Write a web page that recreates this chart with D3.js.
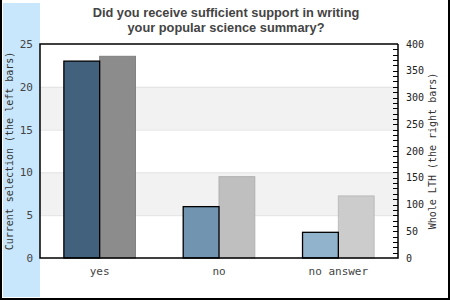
<!DOCTYPE html>
<html>
<head>
<meta charset="utf-8">
<script src="https://cdn.jsdelivr.net/npm/d3@7"></script>
<style>
    body { margin: 0; background: #fff; }
</style>
</head>
<body>
<div id="chart"></div>
<script>
const categories = ["yes", "no", "no answer"];
const selectionValues = [23, 6, 3];
const lthValues = [377, 152, 116];
const selectionColors = ["#41617d", "#7194b0", "#92b3cc"];
const lthColors = ["#8c8c8c", "#bfbfbf", "#cccccc"];
const leftTicks = [0, 5, 10, 15, 20, 25];
const rightTicks = [0, 50, 100, 150, 200, 250, 300, 350, 400];
const titleLines = ["Did you receive sufficient support in writing", "your popular science summary?"];

const width = 450, height = 300;
const margin = { top: 44, right: 52, bottom: 42, left: 40 };
const mono = "'DejaVu Sans Mono', monospace";

const svg = d3.select("#chart").append("svg")
    .attr("width", width)
    .attr("height", height);

// left blue strip
svg.append("rect")
    .attr("x", 3).attr("y", 3)
    .attr("width", 37).attr("height", 294)
    .style("fill", "#c9e7fc");

const x = d3.scaleBand()
    .domain(categories)
    .range([margin.left, width - margin.right])
    .paddingInner(0.4)
    .paddingOuter(0.2);

const xSub = d3.scaleBand()
    .domain(["sel", "lth"])
    .range([0, x.bandwidth()]);

const yL = d3.scaleLinear().domain([0, 25]).range([height - margin.bottom, margin.top]);
const yR = d3.scaleLinear().domain([0, 400]).range([height - margin.bottom, margin.top]);

const x0 = margin.left, x1 = width - margin.right;

// grid bands
[5, 15].forEach(v => {
    svg.append("rect")
        .attr("x", x0).attr("y", yL(v + 5))
        .attr("width", x1 - x0).attr("height", yL(v) - yL(v + 5))
        .style("fill", "#f2f2f2");
});
[5, 10, 15, 20].forEach(v => {
    svg.append("line")
        .attr("x1", x0).attr("x2", x1)
        .attr("y1", yL(v) + 0.5).attr("y2", yL(v) + 0.5)
        .style("stroke", "#e2e2e2");
});

// bars
const groups = svg.selectAll(".cat")
    .data(categories)
    .enter().append("g")
    .attr("class", "cat")
    .attr("transform", d => `translate(${x(d)},0)`);

groups.append("rect")
    .attr("x", xSub("lth"))
    .attr("y", (d, i) => yR(lthValues[i]))
    .attr("width", xSub.bandwidth())
    .attr("height", (d, i) => yR(0) - yR(lthValues[i]))
    .style("fill", (d, i) => lthColors[i])
    .style("stroke", (d, i) => d3.color(lthColors[i]).darker(0.25))
    .style("stroke-width", 1);

groups.append("rect")
    .attr("x", xSub("sel"))
    .attr("y", (d, i) => yL(selectionValues[i]))
    .attr("width", xSub.bandwidth())
    .attr("height", (d, i) => yL(0) - yL(selectionValues[i]))
    .style("fill", (d, i) => selectionColors[i])
    .style("stroke", "#000")
    .style("stroke-width", 1.3);

// plot frame
const yTop = margin.top, yBot = height - margin.bottom;
svg.append("path")
    .attr("d", `M${x1},${yTop}H${x0}V${yBot}H${x1}V${yTop}`)
    .style("fill", "none")
    .style("stroke", "#000")
    .style("stroke-width", 1.5);

// right minor ticks
svg.selectAll(".minor")
    .data(d3.range(10, 400, 10))
    .enter().append("line")
    .attr("x1", x1 - 5).attr("x2", x1)
    .attr("y1", d => Math.round(yR(d)) + 0.5)
    .attr("y2", d => Math.round(yR(d)) + 0.5)
    .style("stroke", "#000");

// left tick labels
const leftAxis = svg.append("g")
    .attr("transform", `translate(${x0},0)`)
    .call(d3.axisLeft(yL).tickValues(leftTicks).tickSize(0).tickPadding(7));
leftAxis.select(".domain").remove();
leftAxis.selectAll("text")
    .style("font-family", mono)
    .style("font-size", "11px")
    .style("fill", "#444");

// right tick labels
const rightAxis = svg.append("g")
    .attr("transform", `translate(${x1},0)`)
    .call(d3.axisRight(yR).tickValues(rightTicks).tickSize(0).tickPadding(8));
rightAxis.select(".domain").remove();
rightAxis.selectAll("text")
    .style("font-family", mono)
    .style("font-size", "10px")
    .style("fill", "#222");

// category labels
svg.selectAll(".catlabel")
    .data(categories)
    .enter().append("text")
    .attr("x", d => x(d) + x.bandwidth() / 2)
    .attr("y", 275)
    .attr("text-anchor", "middle")
    .style("font-family", mono)
    .style("font-size", "11px")
    .style("fill", "#444")
    .text(d => d);

// axis titles
const midY = (yTop + yBot) / 2;
svg.append("text")
    .attr("transform", `translate(13,${midY}) rotate(-90)`)
    .attr("text-anchor", "middle")
    .style("font-family", mono)
    .style("font-size", "10px")
    .style("fill", "#333")
    .text("Current selection (the left bars)");

svg.append("text")
    .attr("transform", `translate(436,${midY}) rotate(-90)`)
    .attr("text-anchor", "middle")
    .style("font-family", mono)
    .style("font-size", "10px")
    .style("fill", "#333")
    .text("Whole LTH (the right bars)");

// title
svg.selectAll(".title")
    .data(titleLines)
    .enter().append("text")
    .attr("x", 226)
    .attr("y", (d, i) => 17 + i * 15)
    .attr("text-anchor", "middle")
    .style("font-family", "'Liberation Sans', Arial, sans-serif")
    .style("font-weight", "bold")
    .style("font-size", "12.8px")
    .style("fill", "#444")
    .text(d => d);

// outer frame (left, bottom, right)
svg.append("path")
    .attr("d", `M1,0V${height - 1}H${width - 1}V0`)
    .style("fill", "none")
    .style("stroke", "#000")
    .style("stroke-width", 2);
</script>
</body>
</html>
